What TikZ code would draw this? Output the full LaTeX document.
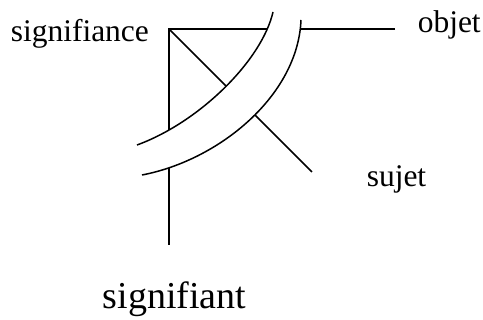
\documentclass[tikz,border=0pt]{standalone}
\usepackage{fontspec}
\setmainfont{Liberation Serif}
\begin{document}
\begin{tikzpicture}[x=1pt, y=-1pt, line width=1.5pt,
  every node/.style={font=\fontsize{31.5}{36}\selectfont, inner sep=0pt, anchor=base west}]
\useasboundingbox (0,0) rectangle (483,320);
% corner and free ends
\coordinate (c) at (169,29);
\coordinate (o) at (395,29);
\coordinate (s) at (312,172);
\coordinate (b) at (169,245);
\node (signifiance) at (10,42) {signifiance};
\node (objet) at (417,33) {objet};
\node (sujet) at (366,187) {sujet};
\node[font=\fontsize{38}{42}\selectfont] (signifiant) at (102,309) {signifiant};
\draw (o) -- (c) -- (b);
\draw (c) -- (s);
% the band
\fill[white] (137,145) .. controls (200,122) and (262,60) .. (273,12)
  -- (301,20) .. controls (298,95) and (220,160) .. (142,175) -- cycle;
\draw (137,145) .. controls (200,122) and (262,60) .. (273,12);
\draw (142,175) .. controls (220,160) and (298,95) .. (301,20);
\end{tikzpicture}
\end{document}
